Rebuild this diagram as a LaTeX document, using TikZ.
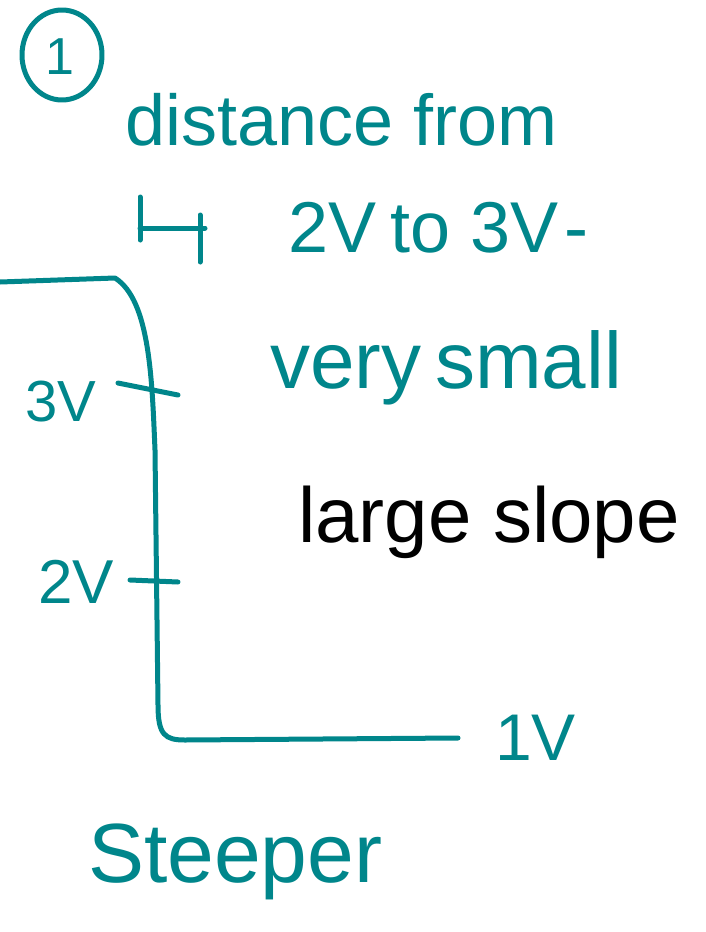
\documentclass[tikz,border=0pt]{standalone}
\usepackage{fontspec}
\setmainfont{Liberation Sans}
\definecolor{pen}{RGB}{0,134,139}
\begin{document}
\begin{tikzpicture}[x=1pt,y=-1pt,
  ink/.style={draw=pen,line width=5pt,line cap=round,line join=round},
  hand/.style={text=pen,anchor=west,inner sep=0pt},
  handk/.style={text=black,anchor=west,inner sep=0pt}]
\useasboundingbox[fill=white] (0,0) rectangle (706,932);
% circled 1
\draw[ink] (62,55) ellipse [x radius=40, y radius=45];
\node[hand,font=\fontsize{52}{56}\selectfont,anchor=center] (one) at (60,57) {1};
% texts
\node[hand,font=\fontsize{72}{76}\selectfont] (dist) at (125,120) {distance from};
\node[hand,font=\fontsize{72}{76}\selectfont] (volts) at (288,228) {2V\hspace{14pt}to 3V\hspace{6pt}-};
\node[hand,font=\fontsize{80}{84}\selectfont] (small) at (270,368) {very\hspace{14pt}small};
\node[handk,font=\fontsize{78}{82}\selectfont] (slope) at (298,522) {large slope};
\node[hand,font=\fontsize{58}{62}\selectfont] (l3) at (25,402) {3V};
\node[hand,font=\fontsize{62}{66}\selectfont] (l2) at (38,582) {2V};
\node[hand,font=\fontsize{66}{70}\selectfont] (l1) at (495,738) {1V};
\node[hand,font=\fontsize{84}{88}\selectfont] (steep) at (88,862) {Steeper};
% distance marker
\coordinate (m1) at (140,197);
\coordinate (m2) at (140,240);
\coordinate (m3) at (205,228);
\coordinate (m4) at (200,215);
\coordinate (m5) at (200,262);
\draw[ink] (m1) -- (m2);
\draw[ink] (140,228) -- (m3);
\draw[ink] (m4) -- (m5);
% curve
\coordinate (c0) at (0,282);
\coordinate (c1) at (115,278);
\coordinate (c2) at (155,450);
\coordinate (c3) at (158,705);
\coordinate (c4) at (185,740);
\coordinate (c5) at (458,738);
\draw[ink] (c0) -- (c1) .. controls (150,300) and (152,380) .. (c2)
  -- (c3) .. controls (158,735) and (165,740) .. (c4) -- (c5);
% ticks
\coordinate (t3a) at (118,383);
\coordinate (t3b) at (178,395);
\coordinate (t2a) at (130,580);
\coordinate (t2b) at (178,582);
\draw[ink] (t3a) -- (t3b);
\draw[ink] (t2a) -- (t2b);
\end{tikzpicture}
\end{document}
